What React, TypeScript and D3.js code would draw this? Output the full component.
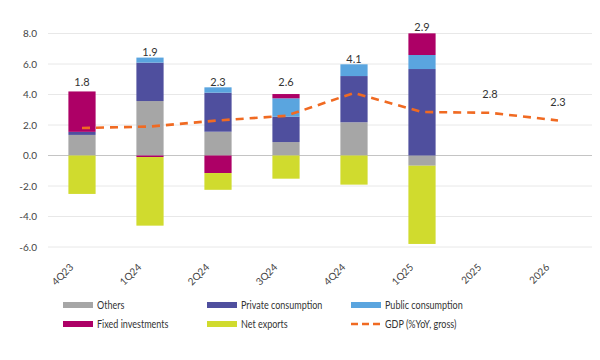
import React from 'react'
import * as d3 from 'd3'

const categories = ['4Q23', '1Q24', '2Q24', '3Q24', '4Q24', '1Q25', '2025', '2026']
const others = [1.35, 3.57, 1.56, 0.88, 2.18, -0.67, 0, 0]
const privateCons = [0.2, 2.52, 2.56, 1.67, 3.03, 5.67, 0, 0]
const publicCons = [0, 0.33, 0.35, 1.2, 0.77, 0.92, 0, 0]
const fixedInv = [2.65, -0.1, -1.15, 0.28, 0, 1.42, 0, 0]
const netExports = [-2.52, -4.5, -1.1, -1.52, -1.91, -5.13, 0, 0]
const gdp = [1.8, 1.9, 2.3, 2.6, 4.1, 2.85, 2.8, 2.3]
const gdpLabels = ['1.8', '1.9', '2.3', '2.6', '4.1', '2.9', '2.8', '2.3']
// where excel parked the value labels (in chart units)
const gdpLabelAt = [4.8, 6.8, 4.8, 4.8, 6.35, 8.4, 4.0, 3.5]
const yTicks = [-6, -4, -2, 0, 2, 4, 6, 8]

const colors = ['#a6a6a6', '#4f4f9e', '#5aa5df', '#ad0066', '#d0db2e']
const gdpColor = '#f06a22'
const font = 'Lato, "Liberation Sans", sans-serif'

export default function App() {
  const W = 600, H = 360
  const x = d3.scaleBand().domain(categories).range([48, 592]).paddingInner(0.6).paddingOuter(0.3)
  const y = d3.scaleLinear().domain([-6, 8]).range([247, 33.5])

  const rows = categories.map((c, i) => ({
    cat: c,
    s0: others[i], s1: privateCons[i], s2: publicCons[i], s3: fixedInv[i], s4: netExports[i],
  }))
  const stack = d3.stack<any>().keys(['s0', 's1', 's2', 's3', 's4']).offset(d3.stackOffsetDiverging)
  const layers = stack(rows)

  const cx = (c: string) => (x(c) as number) + x.bandwidth() / 2
  const line = d3.line<number>().x((d, i) => cx(categories[i])).y(d => y(d))

  const legend = [
    { label: 'Others', color: colors[0] },
    { label: 'Private consumption', color: colors[1] },
    { label: 'Public consumption', color: colors[2] },
    { label: 'Fixed investments', color: colors[3] },
    { label: 'Net exports', color: colors[4] },
    { label: 'GDP (%YoY, gross)', color: gdpColor, dashed: true },
  ]
  const legendX = [63, 207, 351]
  const legendY = [305, 324]

  return (
    <svg width={W} height={H} style={{ position: 'absolute', left: 0, top: 0, background: '#fff' }} fontFamily={font}>
      {yTicks.map(t => (
        <g key={t}>
          <line x1={48} x2={592} y1={y(t)} y2={y(t)} stroke={t === 0 ? '#c4c4c4' : '#e8e8e8'} strokeWidth={1} />
          <text x={37} y={y(t)} dy="0.35em" textAnchor="end" fontSize={10} fill="#444">{t.toFixed(1)}</text>
        </g>
      ))}
      {layers.map((layer, k) => (
        <g key={k} fill={colors[k]}>
          {layer.map((d, i) => Math.abs(d[1] - d[0]) > 0 ? (
            <rect key={i} x={x(categories[i])} width={x.bandwidth()}
              y={y(Math.max(d[0], d[1]))} height={Math.abs(y(d[0]) - y(d[1]))} />
          ) : null)}
        </g>
      ))}
      <path d={line(gdp) || ''} fill="none" stroke={gdpColor} strokeWidth={2.6} strokeDasharray="8,6" />
      {gdpLabels.map((l, i) => (
        <text key={i} x={cx(categories[i])} y={y(gdpLabelAt[i])} dy="0.35em" textAnchor="middle" fontSize={11} fill="#333">{l}</text>
      ))}
      {categories.map(c => (
        <text key={c} transform={`translate(${cx(c) - 8},268) rotate(-45)`} textAnchor="end" fontSize={10} fill="#444">{c}</text>
      ))}
      {legend.map((it, i) => {
        const lx = legendX[i % 3], ly = legendY[Math.floor(i / 3)]
        return (
          <g key={it.label}>
            {it.dashed
              ? <line x1={lx} x2={lx + 30} y1={ly} y2={ly} stroke={it.color} strokeWidth={2.5} strokeDasharray="7,4" />
              : <rect x={lx} y={ly - 3} width={30} height={6} fill={it.color} />}
            {/* source font is much narrower, squeeze it a bit */}
            <text transform={`translate(${lx + 34},${ly}) scale(0.82,1)`} dy="0.35em" fontSize={11} fill="#333">{it.label}</text>
          </g>
        )
      })}
    </svg>
  )
}
